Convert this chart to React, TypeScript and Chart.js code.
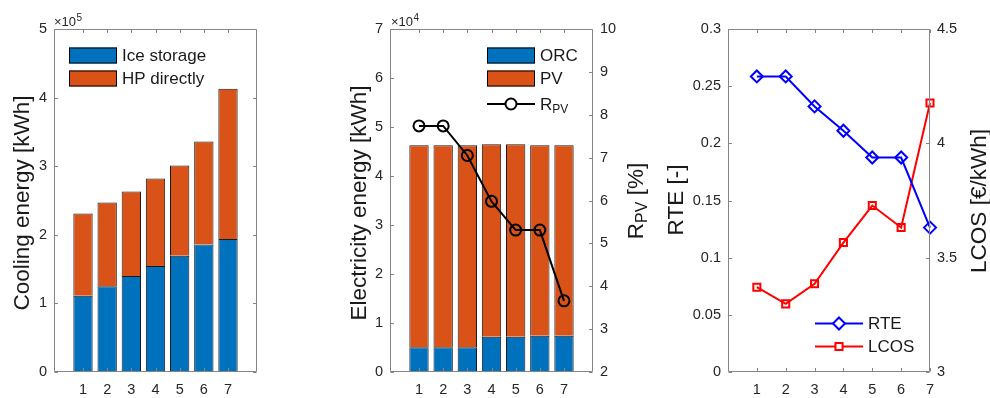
import React, { useEffect, useRef } from "react";
import { Chart, registerables } from "chart.js";

Chart.register(...registerables);

// ---------------- data ----------------
const categories = [1, 2, 3, 4, 5, 6, 7];

// Panel 1: cooling energy [kWh]
const iceStorage = [111000, 125000, 140000, 154500, 169500, 186000, 194000];
const hpDirectly = [120000, 122000, 123000, 127500, 131500, 150000, 219000];
const coolingTicks = [0, 100000, 200000, 300000, 400000, 500000];

// Panel 2: electricity energy [kWh] and R_PV [%]
const orcEnergy = [5050, 5050, 5050, 7200, 7200, 7400, 7400];
const pvEnergy = [41250, 41250, 41250, 39300, 39300, 38900, 38900];
const rPV = [7.74, 7.74, 7.05, 5.98, 5.31, 5.31, 3.66];
const electricityTicks = [0, 10000, 20000, 30000, 40000, 50000, 60000, 70000];
const rpvTicks = [2, 3, 4, 5, 6, 7, 8, 9, 10];

// Panel 3: RTE [-] and LCOS [€/kWh]
const rte = [0.2585, 0.2585, 0.2323, 0.211, 0.1876, 0.1876, 0.1263];
const lcos = [3.371, 3.298, 3.386, 3.566, 3.728, 3.632, 4.176];
const rteTicks = [0, 0.05, 0.1, 0.15, 0.2, 0.25, 0.3];
const lcosTicks = [3, 3.5, 4, 4.5];

// ---------------- style ----------------
const FONT = '"Liberation Sans", Arial, Helvetica, sans-serif';
const TICK_COLOR = "#262626";
const AXIS_COLOR = "#858585";
const TEXT_COLOR = "#1a1a1a";
const BLUE = "#0072BD";
const ORANGE = "#D95319";
const TICK_FONT = 14.5;
const LEGEND_FONT = 17;
const TITLE_FONT = 22.5;
const TL = 3.5;

type Part = { t: string; size: number; shift: number };
type LegendItem = {
  kind: "patch" | "line";
  parts: Part[];
  color: string;
  y: number;
  pointStyle?: string;
  radius?: number;
};
type Decor = {
  id: string;
  legendX: number;
  items: LegendItem[];
  titles: { x: number; y: number; parts: Part[] }[];
  exponent?: { x: number; base: string; exp: string };
  rightAxis?: string;
};

const fmt = (v: number) => String(Math.round(v * 1000) / 1000);

function measureParts(ctx: CanvasRenderingContext2D, parts: Part[]) {
  let w = 0;
  for (const p of parts) {
    ctx.font = `${p.size}px ${FONT}`;
    w += ctx.measureText(p.t).width;
  }
  return w;
}

function drawParts(ctx: CanvasRenderingContext2D, x: number, y: number, parts: Part[]) {
  let cx = x;
  for (const p of parts) {
    ctx.font = `${p.size}px ${FONT}`;
    ctx.fillText(p.t, cx, y + p.shift);
    cx += ctx.measureText(p.t).width;
  }
}

function makeDecor(d: Decor) {
  return {
    id: d.id,
    afterDraw(chart: any) {
      const ctx: CanvasRenderingContext2D = chart.ctx;
      const a = chart.chartArea;
      const L = Math.round(a.left) + 0.5;
      const R = Math.round(a.right) - 0.5;
      const T = Math.round(a.top) + 0.5;
      const B = Math.round(a.bottom) - 0.5;
      ctx.save();
      // box
      ctx.strokeStyle = AXIS_COLOR;
      ctx.lineWidth = 1;
      ctx.beginPath();
      ctx.moveTo(L, T);
      ctx.lineTo(R, T);
      ctx.lineTo(R, B);
      ctx.lineTo(L, B);
      ctx.closePath();
      ctx.stroke();
      // inward ticks
      ctx.beginPath();
      const xs = chart.scales.x;
      for (const t of xs.ticks) {
        const px = Math.round(xs.getPixelForValue(t.value)) + 0.5;
        ctx.moveTo(px, B);
        ctx.lineTo(px, B - TL);
        ctx.moveTo(px, T);
        ctx.lineTo(px, T + TL);
      }
      const ys = chart.scales.y;
      for (const t of ys.ticks) {
        const py = Math.round(ys.getPixelForValue(t.value)) + 0.5;
        ctx.moveTo(L, py);
        ctx.lineTo(L + TL, py);
        if (!d.rightAxis) {
          ctx.moveTo(R, py);
          ctx.lineTo(R - TL, py);
        }
      }
      if (d.rightAxis) {
        const rs = chart.scales[d.rightAxis];
        for (const t of rs.ticks) {
          const py = Math.round(rs.getPixelForValue(t.value)) + 0.5;
          ctx.moveTo(R, py);
          ctx.lineTo(R - TL, py);
        }
      }
      ctx.stroke();

      // exponent label
      if (d.exponent) {
        ctx.fillStyle = TICK_COLOR;
        ctx.textAlign = "left";
        ctx.textBaseline = "alphabetic";
        ctx.font = `13px ${FONT}`;
        ctx.fillText(d.exponent.base, d.exponent.x, 26);
        const w = ctx.measureText(d.exponent.base).width;
        ctx.font = `10px ${FONT}`;
        ctx.fillText(d.exponent.exp, d.exponent.x + w + 0.5, 20.5);
      }

      // titles (rotated)
      ctx.fillStyle = TEXT_COLOR;
      ctx.textAlign = "left";
      ctx.textBaseline = "middle";
      for (const tt of d.titles) {
        const w = measureParts(ctx, tt.parts);
        ctx.save();
        ctx.translate(tt.x, tt.y);
        ctx.rotate(-Math.PI / 2);
        drawParts(ctx, -w / 2, 0, tt.parts);
        ctx.restore();
      }

      // legend
      const lx = d.legendX;
      for (const it of d.items) {
        if (it.kind === "patch") {
          ctx.fillStyle = it.color;
          ctx.fillRect(lx, it.y - 8, 48, 16);
          ctx.strokeStyle = "#000";
          ctx.lineWidth = 1;
          ctx.strokeRect(lx + 0.5, it.y - 8 + 0.5, 47, 15);
        } else {
          ctx.strokeStyle = it.color;
          ctx.lineWidth = 2;
          ctx.beginPath();
          ctx.moveTo(lx, it.y);
          ctx.lineTo(lx + 48, it.y);
          ctx.stroke();
          ctx.strokeStyle = it.color;
          ctx.lineWidth = 2;
          ctx.beginPath();
          const cx = lx + 24;
          const r = it.radius || 5;
          if (it.pointStyle === "circle") {
            ctx.arc(cx, it.y, r, 0, Math.PI * 2);
          } else if (it.pointStyle === "rectRot") {
            ctx.moveTo(cx, it.y - r);
            ctx.lineTo(cx + r, it.y);
            ctx.lineTo(cx, it.y + r);
            ctx.lineTo(cx - r, it.y);
            ctx.closePath();
          } else {
            const s = r * Math.SQRT1_2;
            ctx.rect(cx - s, it.y - s, 2 * s, 2 * s);
          }
          ctx.fillStyle = "#fff";
          ctx.fill();
          ctx.stroke();
        }
        ctx.fillStyle = TEXT_COLOR;
        ctx.textAlign = "left";
        ctx.textBaseline = "middle";
        drawParts(ctx, lx + 53, it.y + 1, it.parts);
      }
      ctx.restore();
    },
  };
}

const tickFont = { family: FONT, size: TICK_FONT };

function xScale(min: number, max: number) {
  return {
    type: "linear",
    min,
    max,
    stacked: true,
    offset: false,
    grid: { display: false, drawTicks: false },
    border: { display: false },
    ticks: { color: TICK_COLOR, font: tickFont, padding: 9, maxRotation: 0, callback: (v: number) => fmt(v) },
    afterBuildTicks: (s: any) => {
      s.ticks = categories.map((c) => ({ value: c }));
    },
    afterFit: (s: any) => {
      s.height = 26;
    },
  };
}

function yScale(min: number, max: number, ticks: number[], div: number, position: string, width: number, stacked: boolean) {
  return {
    type: "linear",
    position,
    min,
    max,
    stacked,
    grid: { display: false, drawTicks: false },
    border: { display: false },
    ticks: { color: TICK_COLOR, font: tickFont, padding: 7, callback: (v: number) => fmt(v / div) },
    afterBuildTicks: (s: any) => {
      s.ticks = ticks.map((v) => ({ value: v }));
    },
    afterFit: (s: any) => {
      s.width = width;
    },
  };
}

const baseOpts = (padding: any) => ({
  responsive: false,
  animation: false,
  devicePixelRatio: 1,
  events: [],
  layout: { padding },
  plugins: { legend: { display: false }, title: { display: false }, tooltip: { enabled: false } },
});

const pts = (vals: number[]) => categories.map((c, i) => ({ x: c, y: vals[i] }));

const barStyle = {
  borderColor: "#1a1a1a",
  borderWidth: 1,
  barPercentage: 0.8,
  categoryPercentage: 1.0,
};

export default function App() {
  const c1 = useRef<HTMLCanvasElement>(null);
  const c2 = useRef<HTMLCanvasElement>(null);
  const c3 = useRef<HTMLCanvasElement>(null);

  useEffect(() => {
    document.body.style.margin = "0";
    document.body.style.background = "#fff";

    const ch1 = new Chart(c1.current as any, {
      type: "bar",
      data: {
        datasets: [
          { label: "Ice storage", data: pts(iceStorage), backgroundColor: BLUE, borderSkipped: false, ...barStyle } as any,
          { label: "HP directly", data: pts(hpDirectly), backgroundColor: ORANGE, borderSkipped: "start", ...barStyle } as any,
        ],
      },
      options: {
        ...baseOpts({ left: 0, top: 29, right: 733, bottom: 0 }),
        scales: {
          x: xScale(-0.2, 8.2),
          y: yScale(0, 500000, coolingTicks, 100000, "left", 54, true),
        },
      } as any,
      plugins: [
        makeDecor({
          id: "d1",
          legendX: 69,
          items: [
            { kind: "patch", parts: [{ t: "Ice storage", size: LEGEND_FONT, shift: 0 }], color: BLUE, y: 55.5 },
            { kind: "patch", parts: [{ t: "HP directly", size: LEGEND_FONT, shift: 0 }], color: ORANGE, y: 78.5 },
          ],
          titles: [{ x: 23, y: 203, parts: [{ t: "Cooling energy [kWh]", size: TITLE_FONT, shift: 0 }] }],
          exponent: { x: 54, base: "\u00d710", exp: "5" },
        }) as any,
      ],
    });

    const ch2 = new Chart(c2.current as any, {
      type: "bar",
      data: {
        datasets: [
          {
            type: "line",
            label: "R_PV",
            data: pts(rPV),
            yAxisID: "y2",
            borderColor: "#000",
            borderWidth: 2,
            pointStyle: "circle",
            pointRadius: 5.5,
            pointBorderWidth: 2,
            pointBorderColor: "#000",
            pointBackgroundColor: "rgba(0,0,0,0)",
            fill: false,
            clip: false,
            order: 0,
          } as any,
          { label: "ORC", data: pts(orcEnergy), backgroundColor: BLUE, yAxisID: "y", order: 1, borderSkipped: false, ...barStyle } as any,
          { label: "PV", data: pts(pvEnergy), backgroundColor: ORANGE, yAxisID: "y", order: 1, borderSkipped: "start", ...barStyle } as any,
        ],
      },
      options: {
        ...baseOpts({ left: 0, top: 29, right: 0, bottom: 0 }),
        scales: {
          x: xScale(-0.2, 8.2),
          y: yScale(0, 70000, electricityTicks, 10000, "left", 390, true),
          y2: yScale(2, 10, rpvTicks, 1, "right", 397, false),
        },
      } as any,
      plugins: [
        makeDecor({
          id: "d2",
          legendX: 487,
          rightAxis: "y2",
          items: [
            { kind: "patch", parts: [{ t: "ORC", size: LEGEND_FONT, shift: 0 }], color: BLUE, y: 55.5 },
            { kind: "patch", parts: [{ t: "PV", size: LEGEND_FONT, shift: 0 }], color: ORANGE, y: 78.5 },
            {
              kind: "line",
              parts: [
                { t: "R", size: LEGEND_FONT, shift: 0 },
                { t: "PV", size: 12, shift: 5 },
              ],
              color: "#000",
              y: 104,
              pointStyle: "circle",
              radius: 5.5,
            },
          ],
          titles: [
            { x: 360, y: 203, parts: [{ t: "Electricity energy [kWh]", size: TITLE_FONT, shift: 0 }] },
            {
              x: 637,
              y: 201,
              parts: [
                { t: "R", size: TITLE_FONT, shift: 0 },
                { t: "PV", size: 16, shift: 6 },
                { t: " [%]", size: TITLE_FONT, shift: 0 },
              ],
            },
          ],
          exponent: { x: 391, base: "\u00d710", exp: "4" },
        }) as any,
      ],
    });

    const ch3 = new Chart(c3.current as any, {
      type: "line",
      data: {
        datasets: [
          {
            label: "RTE",
            data: pts(rte),
            yAxisID: "y",
            borderColor: "#0000FF",
            borderWidth: 2,
            pointStyle: "rectRot",
            pointRadius: 6,
            pointBorderWidth: 2,
            pointBorderColor: "#0000FF",
            pointBackgroundColor: "rgba(0,0,0,0)",
            fill: false,
            clip: false,
          } as any,
          {
            label: "LCOS",
            data: pts(lcos),
            yAxisID: "y2",
            borderColor: "#FF0000",
            borderWidth: 2,
            pointStyle: "rect",
            pointRadius: 5,
            pointBorderWidth: 2,
            pointBorderColor: "#FF0000",
            pointBackgroundColor: "rgba(0,0,0,0)",
            fill: false,
            clip: false,
          } as any,
        ],
      },
      options: {
        ...baseOpts({ left: 0, top: 29, right: 0, bottom: 0 }),
        scales: {
          x: { ...xScale(0, 7), stacked: false },
          y: yScale(0, 0.3, rteTicks, 1, "left", 728, false),
          y2: yScale(3, 4.5, lcosTicks, 1, "right", 60, false),
        },
      } as any,
      plugins: [
        makeDecor({
          id: "d3",
          legendX: 815,
          rightAxis: "y2",
          items: [
            { kind: "line", parts: [{ t: "RTE", size: LEGEND_FONT, shift: 0 }], color: "#0000FF", y: 323.5, pointStyle: "rectRot", radius: 6 },
            { kind: "line", parts: [{ t: "LCOS", size: LEGEND_FONT, shift: 0 }], color: "#FF0000", y: 346.5, pointStyle: "rect", radius: 5 },
          ],
          titles: [
            { x: 677, y: 200, parts: [{ t: "RTE [-]", size: TITLE_FONT, shift: 0 }] },
            { x: 980, y: 201, parts: [{ t: "LCOS [\u20ac/kWh]", size: TITLE_FONT, shift: 0 }] },
          ],
        }) as any,
      ],
    });

    return () => {
      ch1.destroy();
      ch2.destroy();
      ch3.destroy();
    };
  }, []);

  const cs: React.CSSProperties = { position: "absolute", left: 0, top: 0, width: 990, height: 398 };
  return (
    <div style={{ position: "relative", width: 990, height: 398, overflow: "hidden", background: "#fff" }}>
      <canvas ref={c1} width={990} height={398} style={cs} />
      <canvas ref={c2} width={990} height={398} style={cs} />
      <canvas ref={c3} width={990} height={398} style={cs} />
    </div>
  );
}
